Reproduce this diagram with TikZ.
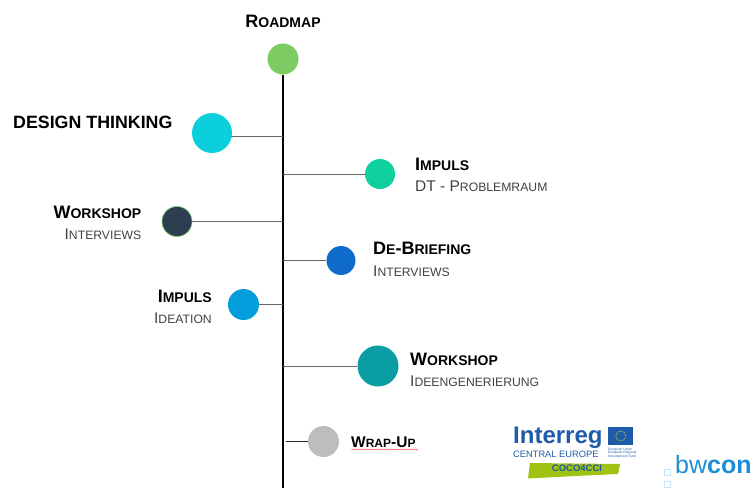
\documentclass[tikz,border=0pt]{standalone}
\usepackage{fontspec}
\setmainfont{Liberation Sans}
\usetikzlibrary{positioning,decorations.pathmorphing}
\definecolor{roadclr}{HTML}{7DCB63}
\definecolor{designclr}{HTML}{0BD0DC}
\definecolor{impulsclr}{HTML}{0FD19F}
\definecolor{workclr}{HTML}{2C3E50}
\definecolor{briefclr}{HTML}{0F6CCB}
\definecolor{ideaclr}{HTML}{049DDB}
\definecolor{ideenclr}{HTML}{0A9DA4}
\definecolor{wrapclr}{HTML}{BDBDBD}
\definecolor{subclr}{HTML}{404040}
\definecolor{euclr}{HTML}{1F5BA8}
\definecolor{cococlr}{HTML}{9FC213}
\definecolor{bwclr}{HTML}{1C8FD6}
\newcommand{\headcap}[2]{{\fontsize{18}{18}\selectfont #1}{\fontsize{14}{14}\selectfont #2}}
\newcommand{\wrapcap}[2]{{\fontsize{15.5}{15.5}\selectfont #1}{\fontsize{12}{12}\selectfont #2}}
\newcommand{\subcap}[2]{{\fontsize{15.5}{15.5}\selectfont #1}{\fontsize{12.2}{12.2}\selectfont #2}}
\tikzset{ %
  ,x=1pt,y=-1pt
  ,stop/.style={circle, inner sep=0, minimum size=#1}
  ,head/.style={inner sep=0, font=\bfseries, text=black}
  ,sub/.style={inner sep=0, text=subclr}
  ,branch/.style={draw=black!60, line width=1pt}
  ,logo/.style={inner sep=0}
}
\begin{document}
\begin{tikzpicture}
  \useasboundingbox (0,0) rectangle (755,488);
  % timeline
  \node[stop=31pt, fill=roadclr] (road) at (283,59) {};
  \coordinate (bottom) at (283,488);
  \draw[line width=2.4pt] (road) -- (bottom);
  \node[stop=40pt, fill=designclr] (design) at (212,133) {};
  \node[stop=30pt, fill=impulsclr] (impuls) at (380,174) {};
  \node[stop=30pt, fill=workclr, draw=roadclr, line width=.6pt] (work) at (177,221.5) {};
  \node[stop=29pt, fill=briefclr] (brief) at (341,260.5) {};
  \node[stop=31pt, fill=ideaclr] (idea) at (243.5,304.5) {};
  \node[stop=41pt, fill=ideenclr] (ideen) at (378,366) {};
  \node[stop=31pt, fill=wrapclr] (wrap) at (323.5,441.5) {};
  % branches
  \coordinate (designend) at (283,136);
  \coordinate (designstart) at (231,136);
  \coordinate (wrapend) at (286,441.5);
  \draw[branch] (designstart) -- (designend);
  \draw[branch] (impuls) -- (impuls -| road);
  \draw[branch] (work) -- (work -| road);
  \draw[branch] (brief) -- (brief -| road);
  \draw[branch] (idea) -- (idea -| road);
  \draw[branch] (ideen) -- (ideen -| road);
  \draw[branch, draw=black!85] (wrap) -- (wrapend);
  % labels
  \node[head, anchor=base] (roadtxt) at (283,27) {\headcap{R}{OADMAP}};
  \node[head, anchor=base west, font=\bfseries\fontsize{17.8}{17.8}\selectfont] (designtxt) at (13,128) {DESIGN THINKING};
  \node[head, anchor=base west] (impulstxt) at (415,170) {\headcap{I}{MPULS}};
  \node[sub, anchor=base west] (impulssub) at (415,191) {\fontsize{15.5}{15.5}\selectfont DT - \subcap{P}{ROBLEMRAUM}};
  \node[head, anchor=base east] (worktxt) at (141.5,218) {\headcap{W}{ORKSHOP}};
  \node[sub, anchor=base east] (worksub) at (141.5,239) {\subcap{I}{NTERVIEWS}};
  \node[head, anchor=base west] (brieftxt) at (373,254) {\headcap{D}{E}{\fontsize{18}{18}\selectfont -}\headcap{B}{RIEFING}};
  \node[sub, anchor=base west] (briefsub) at (373,276) {\subcap{I}{NTERVIEWS}};
  \node[head, anchor=base east] (ideatxt) at (212,302) {\headcap{I}{MPULS}};
  \node[sub, anchor=base east] (ideasub) at (212,323) {\subcap{I}{DEATION}};
  \node[head, anchor=base west] (ideentxt) at (410,365) {\headcap{W}{ORKSHOP}};
  \node[sub, anchor=base west] (ideensub) at (410,386) {\subcap{I}{DEENGENERIERUNG}};
  \node[head, anchor=base west] (wraptxt) at (351,447) {\wrapcap{W}{RAP}{\fontsize{15.5}{15.5}\selectfont -}\wrapcap{U}{P}};
  \coordinate (wavea) at (351.5,449.5);
  \coordinate (waveb) at (418,449.5);
  \draw[red!70, line width=.5pt, decorate, decoration={snake, amplitude=.6pt, segment length=3pt}] (wavea) -- (waveb);
  % interreg logo
  \node[logo, anchor=base west, text=euclr, font=\bfseries\fontsize{24}{24}\selectfont] (interreg) at (513,443.5) {Interreg};
  \node[logo, anchor=base west, text=euclr, font=\fontsize{9.3}{9.3}\selectfont] (central) at (513,457.5) {CENTRAL EUROPE};
  \node[logo, minimum width=25pt, minimum height=17.5pt, fill=euclr, anchor=north west] (flag) at (608,427) {};
  \draw[yellow!90!black, densely dotted, line width=.7pt] (flag) circle (5pt);
  \node[logo, anchor=north west, align=left, text=euclr, font=\fontsize{3.3}{3.6}\selectfont] (fund) at (608,447.5) {European Union\\European Regional\\Development Fund};
  \fill[cococlr] (530,463) -- (620,464) -- (618,474) -- (575,476) -- (528,478.5) -- cycle;
  \node[logo, text=euclr, font=\bfseries\fontsize{9.5}{9.5}\selectfont] (coco) at (577,468.5) {COCO4CCI};
  % bwcon logo
  \node[logo, anchor=base west, text=bwclr, font=\fontsize{25}{25}\selectfont] (bwcon) at (675,473) {bw\textbf{con}};
  \node[logo, draw=bwclr!25, line width=.6pt, minimum size=6pt, anchor=north west] (boxa) at (664,469) {};
  \node[logo, draw=bwclr!25, line width=.6pt, minimum size=6pt, anchor=north west] (boxb) at (664,480.5) {};
\end{tikzpicture}
\end{document}
